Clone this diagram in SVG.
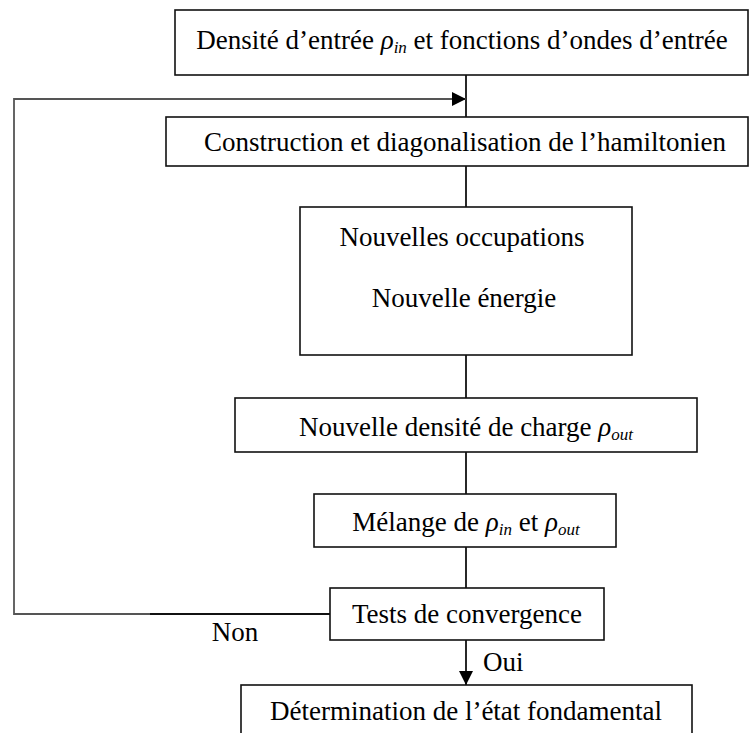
<svg xmlns="http://www.w3.org/2000/svg" width="750" height="733" viewBox="0 0 750 733">
<defs>
<marker id="ahd" markerWidth="14" markerHeight="16" refX="14" refY="8" orient="auto" markerUnits="userSpaceOnUse">
<path d="M0,1 L14,8 L0,15 Z" fill="#000"/>
</marker>
</defs>
<style>
.box{fill:#fff;stroke:#111;stroke-width:1.6}
.t{font-family:"Liberation Serif","Times New Roman",serif;font-size:27px;fill:#000;text-anchor:middle}
.l{fill:none;stroke:#111;stroke-width:1.8}
.s{font-style:italic}
.sub{font-style:italic;font-size:17px}
</style>
<rect width="750" height="733" fill="#fff"/>
<g id="connectors">
<line class="l" x1="466" y1="75" x2="466" y2="117"/>
<polyline class="l" points="330,614 150,614" />
<polyline class="l" points="150,614 14,614 14,99 466,99" style="stroke:#555" marker-end="url(#ahd)"/>
<line class="l" x1="466" y1="166" x2="466" y2="207"/>
<line class="l" x1="466" y1="355" x2="466" y2="398"/>
<line class="l" x1="466" y1="452" x2="466" y2="494"/>
<line class="l" x1="466" y1="547" x2="466" y2="588"/>
<line class="l" x1="466" y1="640" x2="466" y2="685" marker-end="url(#ahd)"/>
<text class="t" x="235" y="641">Non</text>
<text class="t" x="483" y="671" style="text-anchor:start">Oui</text>
</g>
<g id="n1">
<rect class="box" x="175" y="10" width="573" height="65"/>
<text class="t" x="462" y="49">Densité d’entrée <tspan class="s">ρ</tspan><tspan class="sub" dy="4">in</tspan><tspan dy="-4"> et fonctions d’ondes d’entrée</tspan></text>
</g>
<g id="n2">
<rect class="box" x="166" y="117" width="582" height="49"/>
<text class="t" x="465" y="151">Construction et diagonalisation de l’hamiltonien</text>
</g>
<g id="n3">
<rect class="box" x="300" y="207" width="332" height="148"/>
<text class="t" x="462" y="246">Nouvelles occupations</text>
<text class="t" x="464" y="307">Nouvelle énergie</text>
</g>
<g id="n4">
<rect class="box" x="235" y="398" width="462" height="54"/>
<text class="t" x="466" y="436">Nouvelle densité de charge <tspan class="s">ρ</tspan><tspan class="sub" dy="4">out</tspan></text>
</g>
<g id="n5">
<rect class="box" x="314" y="494" width="302" height="53"/>
<text class="t" x="466" y="531">Mélange de <tspan class="s">ρ</tspan><tspan class="sub" dy="4">in</tspan><tspan dy="-4"> et </tspan><tspan class="s">ρ</tspan><tspan class="sub" dy="4">out</tspan></text>
</g>
<g id="n6">
<rect class="box" x="330" y="588" width="274" height="52"/>
<text class="t" x="467" y="623">Tests de convergence</text>
</g>
<g id="n7">
<rect class="box" x="241" y="685" width="451" height="60"/>
<text class="t" x="466" y="720">Détermination de l’état fondamental</text>
</g>
</svg>
